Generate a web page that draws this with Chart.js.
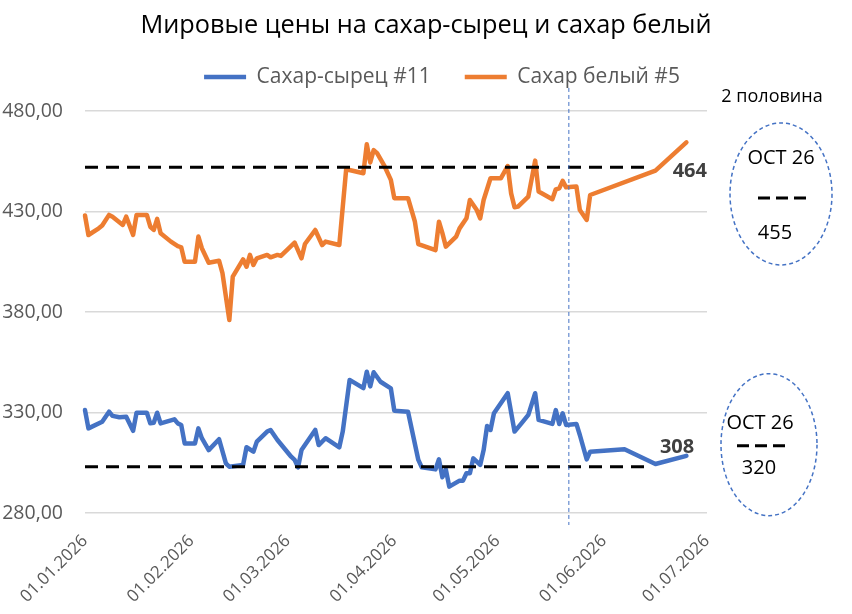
<!DOCTYPE html>
<html>
<head>
<meta charset="utf-8">
<script src="https://cdn.jsdelivr.net/npm/chart.js@4/dist/chart.umd.min.js"></script>
<style>
  html, body { margin: 0; padding: 0; background: #fff; }
  #wrap { width: 852px; height: 614px; }
</style>
</head>
<body>
<div id="wrap"><canvas id="myChart" width="852" height="614"></canvas></div>
<script>
// Мировые цены на сахар: сырец #11 и белый #5, 2026
const chartTitle = "Мировые цены на сахар-сырец и сахар белый";
const rawName = "Сахар-сырец #11";
const whiteName = "Сахар белый #5";

// ось X: дни от 01.01.2026
const monthTickDays = [0, 31, 59, 90, 120, 151, 181];
const monthTickLabels = ["01.01.2026", "01.02.2026", "01.03.2026", "01.04.2026", "01.05.2026", "01.06.2026", "01.07.2026"];

const whiteDays = [0, 1, 4, 5, 7, 8, 11, 12, 14, 15, 18, 19, 20, 21, 22, 25, 27, 28, 29, 32, 33, 34, 36, 39, 40, 42, 43, 46, 47, 48, 49, 50, 53, 54, 56, 57, 61, 63, 64, 67, 69, 70, 74, 76, 81, 82, 83, 84, 85, 87, 89, 90, 94, 96, 97, 102, 103, 104, 105, 108, 109, 111, 112, 114, 115, 116, 118, 121, 123, 124, 125, 126, 129, 131, 132, 136, 137, 138, 139, 140, 143, 144, 146, 147, 166, 175];
const whitePrice = [428, 418.3, 421.6, 423, 428.3, 427.4, 423.3, 427.4, 418.3, 428.3, 428.3, 422.4, 420.8, 426.3, 419.2, 415, 412.8, 412.2, 405, 405, 417.5, 411.7, 404.5, 405.5, 399.3, 376, 397.6, 406.2, 402.5, 408.4, 403.4, 406.7, 408.4, 407.2, 408.4, 407.9, 414.5, 406.7, 413.8, 420.8, 413.3, 415, 413.3, 451, 449, 463.4, 454.4, 460.5, 459, 453.1, 445.7, 436.6, 436.6, 424.9, 413.8, 410.8, 424.9, 419.2, 412.5, 417.5, 421.6, 426.6, 435.7, 430.7, 426.6, 435.7, 446.5, 446.5, 452.6, 439, 432.1, 432.4, 437.4, 455.3, 439.9, 436.1, 441, 441.5, 445.2, 442, 442.4, 430.7, 425.8, 438.2, 450.3, 464.4];

const rawDays = [0, 1, 5, 7, 8, 10, 12, 14, 15, 18, 19, 20, 21, 22, 26, 27, 28, 29, 32, 33, 34, 36, 39, 41, 42, 46, 47, 49, 50, 53, 54, 56, 60, 61, 62, 63, 67, 68, 70, 74, 75, 77, 81, 82, 83, 84, 86, 89, 90, 94, 97, 98, 102, 103, 104, 105, 106, 109, 110, 111, 112, 113, 115, 116, 117, 118, 119, 123, 125, 127, 129, 131, 132, 136, 137, 138, 139, 140, 143, 144, 146, 147, 157, 166, 175];
const rawPrice = [331.2, 322.1, 325.4, 330.4, 328.3, 327.6, 327.9, 320.9, 329.9, 329.9, 324.6, 324.9, 329.9, 324.6, 326.6, 324.6, 323.8, 314.6, 314.6, 322.1, 317.2, 311.3, 316.7, 304.7, 303, 303.9, 312.7, 310.5, 315.5, 320.5, 321.3, 316.3, 308, 306.4, 302.7, 311.3, 321.3, 313.8, 317.2, 312.7, 320.5, 346.2, 342.1, 350.3, 343, 350, 345.3, 342, 330.9, 330.4, 306.4, 302.7, 301.7, 306.7, 297.8, 301.7, 293.1, 296.1, 296.1, 299.8, 299.8, 307.2, 303.9, 311.3, 323.3, 321.3, 329.6, 339.6, 320.5, 324.6, 328.8, 339.6, 326.3, 324.3, 331.2, 324.3, 329.6, 323.8, 324.3, 318.8, 306.7, 310.5, 311.7, 304.4, 308.4];

// уровни (пунктир) и отметка текущей даты
const levelDays = [0, 164];
const whiteLevel = 452;
const rawLevel = 303;
const todayDay = 140.8;

// подписи справа
const halfLabel = "2 половина";
const contractLabel = "OCT 26";
const whiteTarget = "455";
const rawTarget = "320";

const fontFamily = "'Open Sans', sans-serif";
const blue = "#4472C4";
const orange = "#ED7D31";

const toPoints = (days, values) => days.map((d, i) => ({ x: d, y: values[i] }));

// легенда в Excel чуть правее центра
const legendShift = {
    id: "legendShift",
    afterLayout(chart) {
        chart.legend.left += 16;
        chart.legend.right += 16;
    }
};

const decorations = {
    id: "decorations",
    afterDraw(chart) {
        const { ctx, chartArea, scales } = chart;
        const x = scales.x;
        const y = scales.y;
        ctx.save();

        // вертикальная линия
        const vx = x.getPixelForValue(todayDay);
        ctx.strokeStyle = blue;
        ctx.lineWidth = 1;
        ctx.setLineDash([4, 3]);
        ctx.beginPath();
        ctx.moveTo(vx, chartArea.top - 23);
        ctx.lineTo(vx, chartArea.bottom + 12);
        ctx.stroke();

        // последние значения
        ctx.setLineDash([]);
        ctx.font = "bold 20px " + fontFamily;
        ctx.fillStyle = "#404040";
        ctx.textBaseline = "middle";
        ctx.textAlign = "left";
        ctx.fillText(Math.round(whitePrice[whitePrice.length - 1]), x.getPixelForValue(171), y.getPixelForValue(450));
        ctx.fillText(Math.round(rawPrice[rawPrice.length - 1]), x.getPixelForValue(167.3), y.getPixelForValue(312.5));

        // овалы с прогнозом
        const drawNote = (cx, cy, rx, ry, offs, target) => {
            ctx.strokeStyle = blue;
            ctx.lineWidth = 1.5;
            ctx.setLineDash([4, 3]);
            ctx.beginPath();
            ctx.ellipse(cx, cy, rx, ry, 0, 0, Math.PI * 2);
            ctx.stroke();

            ctx.setLineDash([12, 6]);
            ctx.strokeStyle = "#000";
            ctx.lineWidth = 3;
            ctx.beginPath();
            ctx.moveTo(cx + offs.dashFrom, cy + offs.dashY);
            ctx.lineTo(cx + offs.dashTo, cy + offs.dashY);
            ctx.stroke();
            ctx.setLineDash([]);

            ctx.fillStyle = "#000";
            ctx.textAlign = "center";
            ctx.font = "20px " + fontFamily;
            ctx.fillText(contractLabel, cx + offs.contractX, cy + offs.contractY);
            ctx.fillText(target, cx + offs.targetX, cy + offs.targetY);
        };

        const topX = chartArea.right + 74;
        const topY = y.getPixelForValue(438.7);
        drawNote(topX, topY, 51, 71, { dashFrom: -23, dashTo: 28, dashY: 4, contractX: 0, contractY: -36, targetX: -6, targetY: 39 }, whiteTarget);

        ctx.font = "18px " + fontFamily;
        ctx.fillStyle = "#000";
        ctx.textAlign = "center";
        ctx.fillText(halfLabel, topX - 9, topY - 97);

        const botX = chartArea.right + 62;
        const botY = y.getPixelForValue(314);
        drawNote(botX, botY, 48, 71, { dashFrom: -32, dashTo: 20, dashY: 1, contractX: -9, contractY: -21, targetX: -10, targetY: 24 }, rawTarget);

        ctx.restore();
    }
};

const ctx = document.getElementById("myChart");

const config = {
    type: "line",
    data: {
        datasets: [
            {
                label: rawName,
                data: toPoints(rawDays, rawPrice),
                borderColor: blue,
                backgroundColor: blue,
                borderWidth: 4.5,
                borderCapStyle: "round",
                borderJoinStyle: "round",
                pointRadius: 0,
                clip: false,
                order: 1
            },
            {
                label: whiteName,
                data: toPoints(whiteDays, whitePrice),
                borderColor: orange,
                backgroundColor: orange,
                borderWidth: 4.5,
                borderCapStyle: "round",
                borderJoinStyle: "round",
                pointRadius: 0,
                clip: false,
                order: 1
            },
            {
                label: "level white",
                data: toPoints(levelDays, [whiteLevel, whiteLevel]),
                borderColor: "#000",
                borderWidth: 3,
                borderDash: [13, 8],
                pointRadius: 0,
                order: 0
            },
            {
                label: "level raw",
                data: toPoints(levelDays, [rawLevel, rawLevel]),
                borderColor: "#000",
                borderWidth: 3,
                borderDash: [13, 8],
                pointRadius: 0,
                order: 0
            }
        ]
    },
    options: {
        responsive: false,
        animation: false,
        layout: { padding: 0 },
        plugins: {
            title: {
                display: true,
                text: chartTitle,
                color: "#000",
                font: { family: fontFamily, size: 25.3, weight: "normal" },
                padding: { top: 10.8, bottom: -8.7 }
            },
            legend: {
                labels: {
                    filter: (item) => item.datasetIndex < 2,
                    usePointStyle: true,
                    pointStyle: "line",
                    pointStyleWidth: 42,
                    color: "#595959",
                    font: { family: fontFamily, size: 21 },
                    padding: 34
                }
            },
            tooltip: { enabled: false }
        },
        scales: {
            x: {
                type: "linear",
                min: 0,
                max: 181,
                grid: { display: false },
                border: { display: false },
                afterBuildTicks: (scale) => {
                    scale.ticks = monthTickDays.map((v) => ({ value: v }));
                },
                afterFit: (scale) => {
                    scale.height = 101;
                },
                ticks: {
                    minRotation: 45,
                    maxRotation: 45,
                    padding: 10,
                    color: "#595959",
                    font: { family: fontFamily, size: 17 },
                    callback: (v) => monthTickLabels[monthTickDays.indexOf(v)]
                }
            },
            xTop: {
                type: "linear",
                axis: "x",
                position: "top",
                grid: { display: false, drawTicks: false },
                border: { display: false },
                ticks: { display: false },
                afterFit: (scale) => {
                    scale.height = 13.5;
                }
            },
            y: {
                min: 280,
                max: 480,
                grid: { color: "#d9d9d9", lineWidth: 1.5, drawTicks: false },
                border: { display: false },
                afterFit: (scale) => {
                    scale.width = 85;
                },
                ticks: {
                    stepSize: 50,
                    padding: 22,
                    color: "#595959",
                    font: { family: fontFamily, size: 19.5 },
                    callback: (v) => v.toFixed(2).replace(".", ",")
                }
            },
            yRight: {
                type: "linear",
                axis: "y",
                position: "right",
                grid: { display: false, drawTicks: false },
                border: { display: false },
                ticks: { display: false },
                afterFit: (scale) => {
                    scale.width = 145;
                }
            }
        }
    },
    plugins: [legendShift, decorations]
};

const graph = new Chart(ctx, config);
</script>
</body>
</html>
